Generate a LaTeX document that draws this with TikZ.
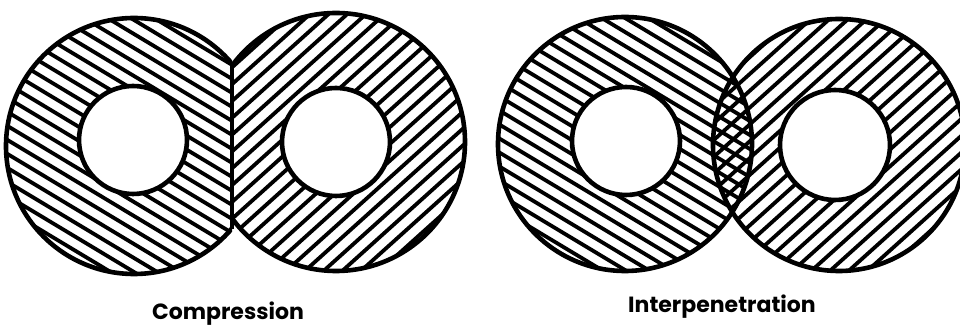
\documentclass[tikz,border=0pt]{standalone}
\usepackage{fontspec}
\setsansfont{Poppins}
\begin{document}
\begin{tikzpicture}[x=0.5pt,y=-0.5pt,
  outline/.style={line width=2.3pt},
  hatch/.style={line width=1.9pt},
  lbl/.style={font=\sffamily\bfseries\fontsize{11}{13}\selectfont, inner sep=0pt, anchor=base}]
\useasboundingbox[fill=white] (0,0) rectangle (960,325);
% ---------- Compression ----------
\coordinate (A) at (134,146);
\coordinate (Ai) at (133,140);
\coordinate (B) at (336,142);
\coordinate (Bi) at (336,142);
\coordinate (T) at (232,62);
\coordinate (U) at (232,229);
\begin{scope}
  \clip (0,0) rectangle (232,325);
  \clip (A) circle (64pt);
  \begin{scope}[shift={(A)}, rotate=-31]
    \foreach \k in {-22,...,22} \draw[hatch] (-300,\k*12) -- (300,\k*12);
  \end{scope}
\end{scope}
\begin{scope}
  \clip (232,0) rectangle (480,325);
  \clip (B) circle (64.5pt);
  \begin{scope}[shift={(B)}, rotate=42]
    \foreach \k in {-22,...,22} \draw[hatch] (-300,\k*12.5) -- (300,\k*12.5);
  \end{scope}
\end{scope}
\begin{scope}
  \clip (0,0) rectangle (232,325);
  \draw[outline] (A) circle (64pt);
\end{scope}
\begin{scope}
  \clip (232,0) rectangle (480,325);
  \draw[outline] (B) circle (64.5pt);
\end{scope}
\draw[outline] (T) -- (U);
\filldraw[outline, fill=white] (Ai) circle (27pt);
\filldraw[outline, fill=white] (Bi) circle (27pt);
% ---------- Interpenetration ----------
\coordinate (C) at (625,144);
\coordinate (Ci) at (626,141);
\coordinate (D) at (839,145);
\coordinate (Di) at (835,145);
\begin{scope}
  \clip (C) circle (63.5pt);
  \begin{scope}[shift={(C)}, rotate=-31]
    \foreach \k in {-22,...,22} \draw[hatch] (-300,\k*12) -- (300,\k*12);
  \end{scope}
\end{scope}
\begin{scope}
  \clip (D) circle (63pt);
  \begin{scope}[shift={(D)}, rotate=42]
    \foreach \k in {-22,...,22} \draw[hatch] (-300,\k*12.5) -- (300,\k*12.5);
  \end{scope}
\end{scope}
\draw[outline] (C) circle (63.5pt);
\draw[outline] (D) circle (63pt);
\filldraw[outline, fill=white] (Ci) circle (27pt);
\filldraw[outline, fill=white] (Di) circle (27.5pt);
% ---------- labels ----------
\node[lbl] (lc) at (228,320) {Compression};
\node[lbl] (li) at (722,313) {Interpenetration};
\end{tikzpicture}
\end{document}
